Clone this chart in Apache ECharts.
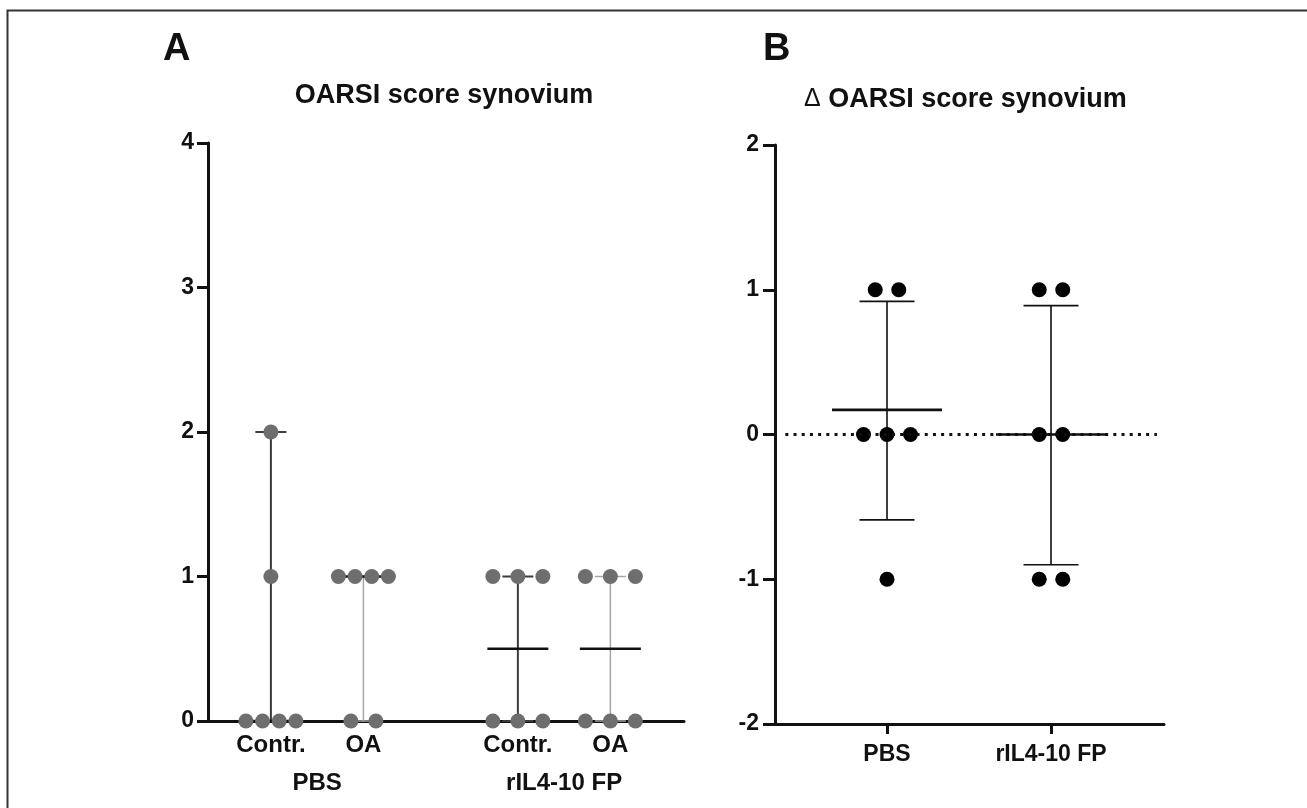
<!DOCTYPE html>
<html>
<head>
<meta charset="utf-8">
<script src="https://cdn.jsdelivr.net/npm/echarts@6/dist/echarts.min.js"></script>
<style>
    html, body { margin: 0; padding: 0; background: #fff; }
    #chart { width: 1307px; height: 808px; }
</style>
</head>
<body>
<div id="chart"></div>
<script>
// panel A: OARSI score synovium (median with range)
const aColumns = ['Contr.', 'OA', 'Contr.', 'OA']
const aGroups = ['PBS', 'rIL4-10 FP']
const aPbsContr = [0, 0, 0, 0, 1, 2]
const aPbsOA = [1, 1, 1, 1, 0, 0]
const aIlContr = [1, 1, 1, 0, 0, 0]
const aIlOA = [1, 1, 1, 0, 0, 0]
const aMedian = [0, 1, 0.5, 0.5]
const aMin = [0, 0, 0, 0]
const aMax = [2, 1, 1, 1]
const aTicks = [0, 1, 2, 3, 4]

// panel B: delta OARSI score synovium (mean with SD)
const bGroups = ['PBS', 'rIL4-10 FP']
const bPbs = [1, 1, 0, 0, 0, -1]
const bIl = [1, 1, 0, 0, -1, -1]
const bMean = [0.17, 0]
const bSdHigh = [0.92, 0.89]
const bSdLow = [-0.59, -0.9]
const bTicks = [-2, -1, 0, 1, 2]

// layout: where the columns sit on the value axes
const aColX = [1, 2, 3.67, 4.67]
const aGroupX = [1.5, 4.17]
const bColX = [1, 2]
const aWhiskerColor = ['#3c3c3c', '#a5a5a5', '#3c3c3c', '#a5a5a5']
const aWhiskerWidth = [2, 1.5, 2, 1.5]

const font = '"Liberation Sans", Arial, sans-serif'
const ink = '#111'

// spread points with equal values side by side (beeswarm-like)
function dodge(values, x, base, span) {
    const seen = {}
    const counts = {}
    values.forEach(v => { counts[v] = (counts[v] || 0) + 1 })
    return values.map(v => {
        const n = counts[v]
        const i = seen[v] || 0
        seen[v] = i + 1
        const step = n > 1 ? Math.min(base, span / (n - 1)) : 0
        return { value: [x, v], symbolOffset: [(i - (n - 1) / 2) * step, 0] }
    })
}

const aPoints = [aPbsContr, aPbsOA, aIlContr, aIlOA]
    .map((vals, i) => dodge(vals, aColX[i], 25, 50))
    .flat()
const bPoints = [bPbs, bIl]
    .map((vals, i) => dodge(vals, bColX[i], 23.5, 47))
    .flat()

function nearIndex(arr, v) {
    return arr.findIndex(a => Math.abs(a - v) < 1e-6)
}

const chart = echarts.init(document.getElementById('chart'))

const labelStyle = { fontFamily: font, fontWeight: 'bold', color: ink }

chart.setOption({
    animation: false,
    graphic: [{
        type: 'rect',
        shape: { x: 7.5, y: 10.5, width: 1400, height: 900 },
        style: { fill: 'none', stroke: '#333', lineWidth: 2 },
        silent: true
    }],
    title: [
        { text: 'A', left: 158, top: 26, textStyle: { ...labelStyle, fontSize: 38 } },
        { text: 'OARSI score synovium', left: 439, top: 77, textAlign: 'center',
          textStyle: { ...labelStyle, fontSize: 27 } },
        { text: 'B', left: 758, top: 26, textStyle: { ...labelStyle, fontSize: 38 } },
        { text: '{d|Δ} OARSI score synovium', left: 799, top: 81,
          textStyle: {
              ...labelStyle, fontSize: 27,
              rich: { d: { fontFamily: font, fontWeight: 'normal', fontSize: 25, color: ink } }
          } }
    ],
    grid: [
        { left: 208, top: 143, width: 476, height: 578 },
        { left: 775, top: 145, width: 389, height: 579 }
    ],
    xAxis: [
        {
            gridIndex: 0, type: 'value', min: 0.32, max: 5.466,
            splitLine: { show: false },
            axisLine: { onZero: false, lineStyle: { color: ink, width: 3 } },
            axisTick: { show: false },
            axisLabel: {
                ...labelStyle, fontSize: 24, margin: 12,
                customValues: aColX,
                formatter: v => aColumns[nearIndex(aColX, v)] || ''
            }
        },
        {
            gridIndex: 0, type: 'value', min: 0.32, max: 5.466, position: 'bottom', offset: 38,
            splitLine: { show: false },
            axisLine: { show: false, onZero: false },
            axisTick: { show: false },
            axisLabel: {
                ...labelStyle, fontSize: 24, margin: 12,
                customValues: aGroupX,
                formatter: v => aGroups[nearIndex(aGroupX, v)] || ''
            }
        },
        {
            gridIndex: 1, type: 'value', min: 0.317, max: 2.689,
            splitLine: { show: false },
            axisLine: { onZero: false, lineStyle: { color: ink, width: 3 } },
            axisTick: { show: true, length: 10, customValues: bColX, lineStyle: { color: ink, width: 3 } },
            axisLabel: {
                ...labelStyle, fontSize: 23, margin: 19,
                customValues: bColX,
                formatter: v => bGroups[nearIndex(bColX, v)] || ''
            }
        }
    ],
    yAxis: [
        {
            gridIndex: 0, type: 'value', min: aTicks[0], max: aTicks[aTicks.length - 1], interval: 1,
            splitLine: { show: false },
            axisLine: { show: true, onZero: false, lineStyle: { color: ink, width: 3 } },
            axisTick: { show: true, length: 11, lineStyle: { color: ink, width: 3 } },
            axisLabel: { ...labelStyle, fontSize: 23, margin: 14 }
        },
        {
            gridIndex: 1, type: 'value', min: bTicks[0], max: bTicks[bTicks.length - 1], interval: 1,
            splitLine: { show: false },
            axisLine: { show: true, onZero: false, lineStyle: { color: ink, width: 3 } },
            axisTick: { show: true, length: 12, lineStyle: { color: ink, width: 3 } },
            axisLabel: { ...labelStyle, fontSize: 23, margin: 16 }
        }
    ],
    series: [
        {
            // range whiskers with median line, panel A
            type: 'custom',
            xAxisIndex: 0, yAxisIndex: 0, z: 3,
            data: aColX.map((x, i) => [x, aMin[i], aMax[i], aMedian[i]]),
            renderItem: (params, api) => {
                const i = params.dataIndex
                const x = api.value(0)
                const lo = api.coord([x, api.value(1)])
                const hi = api.coord([x, api.value(2)])
                const mid = api.coord([x, api.value(3)])
                const wStyle = { stroke: aWhiskerColor[i], lineWidth: aWhiskerWidth[i] }
                return {
                    type: 'group',
                    children: [
                        { type: 'line', shape: { x1: lo[0], y1: lo[1], x2: hi[0], y2: hi[1] }, style: wStyle },
                        { type: 'line', shape: { x1: hi[0] - 15.5, y1: hi[1], x2: hi[0] + 15.5, y2: hi[1] }, style: wStyle },
                        { type: 'line', shape: { x1: lo[0] - 15.5, y1: lo[1], x2: lo[0] + 15.5, y2: lo[1] }, style: wStyle },
                        { type: 'line', shape: { x1: mid[0] - 30.5, y1: mid[1], x2: mid[0] + 30.5, y2: mid[1] },
                          style: { stroke: ink, lineWidth: 2.5 } }
                    ]
                }
            }
        },
        {
            type: 'scatter',
            xAxisIndex: 0, yAxisIndex: 0, z: 4,
            symbolSize: 15,
            itemStyle: { color: '#6e6e6e', opacity: 1 },
            data: aPoints
        },
        {
            // dotted zero line, panel B
            type: 'line',
            xAxisIndex: 2, yAxisIndex: 1, z: 1,
            data: [],
            markLine: {
                silent: true, symbol: 'none', label: { show: false },
                lineStyle: { color: ink, width: 3, type: [3, 5.2] },
                data: [[{ coord: [0.38, 0] }, { coord: [2.646, 0] }]]
            }
        },
        {
            // mean with SD, panel B
            type: 'custom',
            xAxisIndex: 2, yAxisIndex: 1, z: 3,
            data: bColX.map((x, i) => [x, bSdLow[i], bSdHigh[i], bMean[i]]),
            renderItem: (params, api) => {
                const x = api.value(0)
                const lo = api.coord([x, api.value(1)])
                const hi = api.coord([x, api.value(2)])
                const mid = api.coord([x, api.value(3)])
                const s = { stroke: ink, lineWidth: 1.6 }
                return {
                    type: 'group',
                    children: [
                        { type: 'line', shape: { x1: lo[0], y1: lo[1], x2: hi[0], y2: hi[1] }, style: s },
                        { type: 'line', shape: { x1: hi[0] - 27.5, y1: hi[1], x2: hi[0] + 27.5, y2: hi[1] }, style: s },
                        { type: 'line', shape: { x1: lo[0] - 27.5, y1: lo[1], x2: lo[0] + 27.5, y2: lo[1] }, style: s },
                        { type: 'line', shape: { x1: mid[0] - 55, y1: mid[1], x2: mid[0] + 55, y2: mid[1] },
                          style: { stroke: ink, lineWidth: 2.6 } }
                    ]
                }
            }
        },
        {
            type: 'scatter',
            xAxisIndex: 2, yAxisIndex: 1, z: 4,
            symbolSize: 15,
            itemStyle: { color: '#000', opacity: 1 },
            data: bPoints
        }
    ]
})
</script>
</body>
</html>
